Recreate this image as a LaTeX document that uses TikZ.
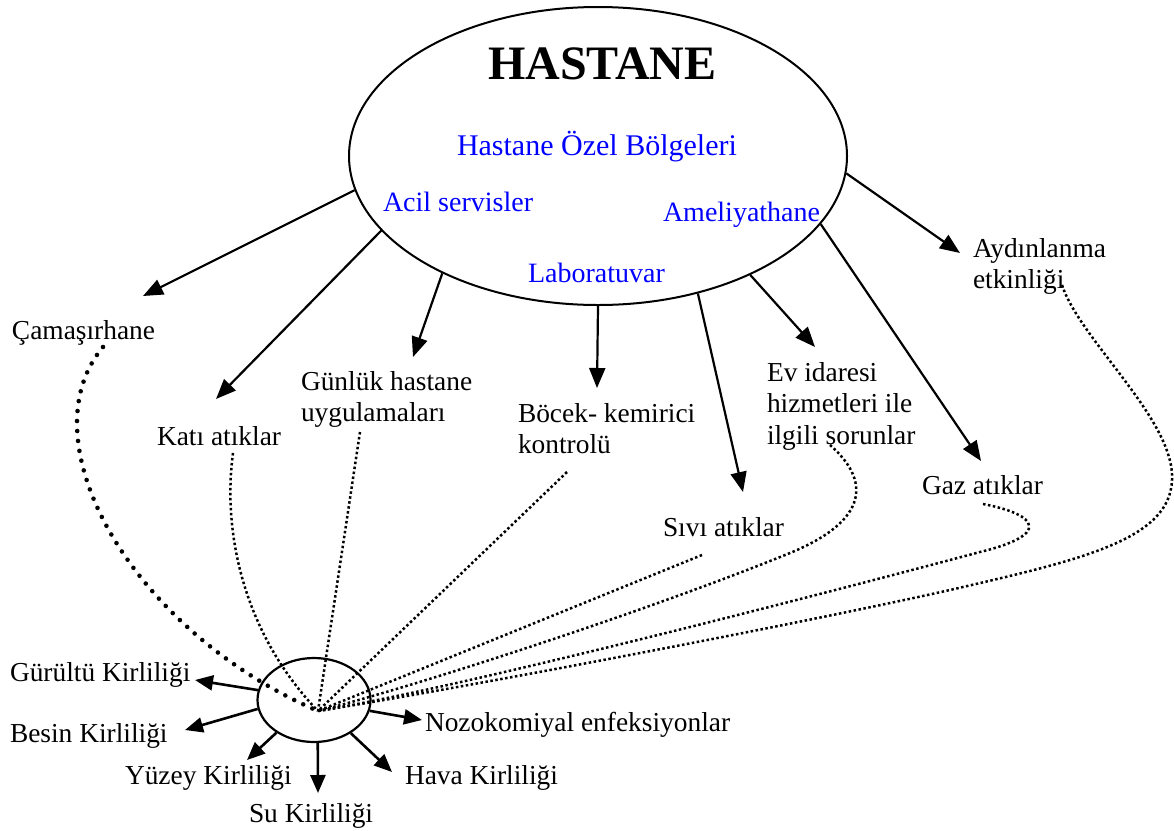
\documentclass[tikz,border=0pt]{standalone}
\usepackage{fontspec}
\setmainfont{Liberation Serif}
\usetikzlibrary{arrows.meta,shapes.geometric}
\definecolor{zoneblue}{RGB}{0,0,255}
\tikzset{
  lbl/.style={inner sep=0pt, outer sep=0pt, anchor=base west, align=left},
  zone/.style={lbl, text=zoneblue, font=\fontsize{28}{32}\selectfont},
  bigarr/.style={line width=2.2pt, -{Triangle[length=20pt,width=16pt]}},
  smallarr/.style={line width=2.6pt, -{Triangle[length=18pt,width=15pt]}},
  finedots/.style={line width=2.5pt, dash pattern=on 2.5pt off 2.5pt},
  coarsedots/.style={line width=4.6pt, line cap=round, dash pattern=on 0pt off 10pt},
  rim/.style={draw, ellipse, line width=2pt, inner sep=0pt}
}
\begin{document}
\begin{tikzpicture}[x=1pt, y=-1pt, font=\fontsize{27.4}{31.5}\selectfont]
\useasboundingbox (0,0) rectangle (1174,830);

% hospital ellipse and its zones
\node[rim, minimum width=498pt, minimum height=298pt] (H) at (598,156) {};
\node[lbl, font=\fontsize{48}{52}\bfseries] (title) at (488,79) {HASTANE};
\node[zone, font=\fontsize{30}{34}\selectfont] (ozel) at (457,155) {Hastane Özel Bölgeleri};
\node[zone] (acil) at (383,211) {Acil servisler};
\node[zone] (ameli) at (663,221) {Ameliyathane};
\node[zone] (lab) at (528,282) {Laboratuvar};

% sources (multi-line labels are placed by the baseline of their last line)
\node[lbl] (cam) at (12,339) {Çamaşırhane};
\node[lbl] (kati) at (157,445) {Katı atıklar};
\node[lbl] (gunluk) at (301,421.5) {Günlük hastane\\uygulamaları};
\node[lbl] (bocek) at (518,453.5) {Böcek- kemirici\\kontrolü};
\node[lbl] (sivi) at (663,536) {Sıvı atıklar};
\node[lbl] (ev) at (767,444) {Ev idaresi\\hizmetleri ile\\ilgili sorunlar};
\node[lbl] (gaz) at (922,494) {Gaz atıklar};
\node[lbl] (ayd) at (973,288.5) {Aydınlanma\\etkinliği};

% pollution hub and its effects
\node[rim, line width=2.2pt, minimum width=113pt, minimum height=84pt] (P) at (314,700) {};
\coordinate (hub) at (318,711);
\node[lbl] (gurultu) at (10,681) {Gürültü Kirliliği};
\node[lbl] (besin) at (10,742) {Besin Kirliliği};
\node[lbl] (yuzey) at (125,784) {Yüzey Kirliliği};
\node[lbl] (su) at (249,822) {Su Kirliliği};
\node[lbl] (hava) at (405,784) {Hava Kirliliği};
\node[lbl] (nozo) at (425,731) {Nozokomiyal enfeksiyonlar};

% arrow tips next to the source labels
\coordinate (tcam) at (143,296);
\coordinate (tkati) at (216,399);
\coordinate (tgunluk) at (413,357);
\coordinate (tbocek) at (597,388);
\coordinate (tsivi) at (743,492);
\coordinate (tev) at (815,347);
\coordinate (tgaz) at (981,461);
\coordinate (tayd) at (960,253);

\draw[bigarr] (H.188.3) -- (tcam);
\draw[bigarr] (H.199.9) -- (tkati);
\draw[bigarr] (H.217.5) -- (tgunluk);
\draw[bigarr] (H.270) -- (tbocek);
\draw[bigarr] (H.306.8) -- (tsivi);
\draw[bigarr] (H.322.7) -- (tev);
\draw[bigarr] (H.343.6) -- (tgaz);
\draw[bigarr] (H.356.3) -- (tayd);

% arrow tips next to the effect labels
\coordinate (tgurultu) at (195,680);
\coordinate (tbesin) at (185,730);
\coordinate (tyuzey) at (247,760);
\coordinate (tsu) at (318,793);
\coordinate (thava) at (392,772);
\coordinate (tnozo) at (422,720);

\draw[smallarr] (P.170) -- (tgurultu);
\draw[smallarr] (P.189) -- (tbesin);
\draw[smallarr] (P.221.7) -- (tyuzey);
\draw[smallarr] (P.275) -- (tsu);
\draw[smallarr] (P.318.4) -- (thava);
\draw[smallarr] (P.349.5) -- (tnozo);

% dotted links from every source into the hub
\coordinate (dcam) at (103,347);
\coordinate (dkati) at (233,453);
\coordinate (dgunluk) at (360,432);
\coordinate (dbocek) at (567,472);
\coordinate (dsivi) at (702,555);
\coordinate (dev) at (830,445);
\coordinate (dgaz) at (983,504);
\coordinate (dayd) at (1062,285);

\draw[coarsedots] (dcam) .. controls (25,440) and (130,630) .. (hub);
\draw[finedots] (dkati) .. controls (222,535) and (245,635) .. (hub);
\draw[finedots] (dgunluk) -- (hub);
\draw[finedots] (dbocek) -- (hub);
\draw[finedots] (dsivi) -- (hub);
\draw[finedots] (dev) .. controls (870,480) and (870,520) .. (790,553)
  .. controls (650,610) and (420,685) .. (hub);
\draw[finedots] (dgaz) .. controls (1040,515) and (1050,535) .. (980,552)
  .. controls (800,600) and (450,690) .. (hub);
\draw[finedots] (dayd) .. controls (1080,340) and (1175,420) .. (1172,480)
  .. controls (1170,540) and (1080,560) .. (950,590)
  .. controls (780,628) and (450,690) .. (hub);
\end{tikzpicture}
\end{document}
